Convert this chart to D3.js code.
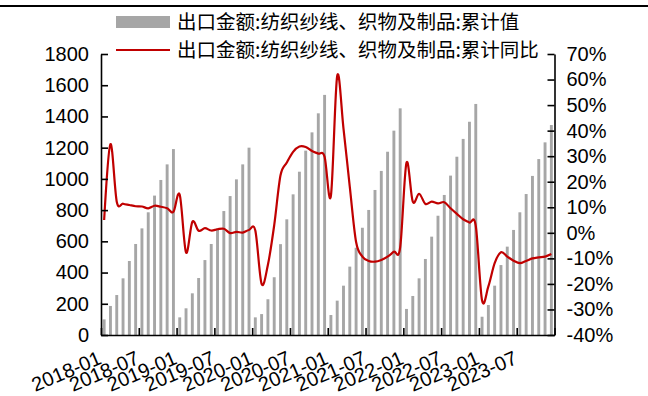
<!DOCTYPE html>
<html>
<head>
<meta charset="utf-8">
<script src="https://cdn.jsdelivr.net/npm/d3@7/dist/d3.min.js"></script>
<style>
  body { margin: 0; background: #fff; }
  svg { display: block; }
</style>
</head>
<body>
<svg id="chart" width="648" height="396"></svg>
<script>
// Monthly categories, 2018-01 .. 2023-12
const years = [2018, 2019, 2020, 2021, 2022, 2023];
const categories = [];
years.forEach(y => { for (let m = 1; m <= 12; m++) categories.push(`${y}-${String(m).padStart(2, "0")}`); });

// Labels shown on the category axis
const tickLabels = ["2018-01", "2018-07", "2019-01", "2019-07", "2020-01", "2020-07",
                    "2021-01", "2021-07", "2022-01", "2022-07", "2023-01", "2023-07"];

// 出口金额:纺织纱线、织物及制品:累计值 (亿美元), per year
const value2018 = [100, 186, 256, 363, 474, 583, 683, 786, 893, 993, 1093, 1191];
const value2019 = [113, 171, 267, 365, 480, 583, 683, 794, 890, 997, 1093, 1200];
const value2020 = [113, 134, 229, 370, 582, 741, 901, 1046, 1181, 1298, 1420, 1538];
const value2021 = [128, 220, 316, 438, 559, 687, 801, 929, 1051, 1174, 1309, 1452];
const value2022 = [167, 250, 363, 487, 630, 764, 897, 1021, 1142, 1256, 1366, 1480];
const value2023 = [117, 192, 316, 448, 566, 673, 786, 903, 1019, 1127, 1234, 1345];

// 出口金额:纺织纱线、织物及制品:累计同比 (%), per year
const yoy2018 = [5.0, 34.7, 12.2, 11.4, 10.9, 10.4, 10.3, 9.6, 10.6, 10.2, 9.6, 8.2];
const yoy2019 = [14.9, -7.7, 4.3, 0.8, 1.8, 0.9, 1.4, 1.6, -0.1, 0.4, 0.1, 1.1];
const yoy2020 = [0.9, -20.0, -12.5, 3.0, 22.5, 27.5, 31.7, 33.8, 33.6, 32.0, 31.0, 29.8];
const yoy2021 = [14.5, 61.4, 40.8, 18.0, -3.6, -9.3, -11.0, -11.3, -10.6, -9.3, -7.4, -5.7];
const yoy2022 = [27.4, 12.2, 15.3, 11.3, 12.2, 11.5, 12.0, 9.6, 7.4, 5.3, 4.0, 2.7];
const yoy2023 = [-26.5, -21.0, -11.9, -7.6, -9.3, -10.9, -11.9, -11.0, -10.0, -9.6, -9.3, -8.3];

const leftTicks = [0, 200, 400, 600, 800, 1000, 1200, 1400, 1600, 1800];
const rightTicks = [-40, -30, -20, -10, 0, 10, 20, 30, 40, 50, 60, 70];

const seriesBar = "出口金额:纺织纱线、织物及制品:累计值";
const seriesLine = "出口金额:纺织纱线、织物及制品:累计同比";

const values = [].concat(value2018, value2019, value2020, value2021, value2022, value2023);
const yoys = [].concat(yoy2018, yoy2019, yoy2020, yoy2021, yoy2022, yoy2023);
const rows = categories.map((c, i) => ({ cat: c, value: values[i], yoy: yoys[i] }));

const svg = d3.select("#chart");
const plot = { left: 101, right: 554.5, top: 54, bottom: 335 };

const BAR = "#a6a6a6", RED = "#c00000";
const latin = "'Liberation Sans', Arial, sans-serif";
const cjk = "'Noto Sans CJK SC', 'Noto Sans', sans-serif";

svg.append("rect").attr("width", 648).attr("height", 396).attr("fill", "#fff");

// rule across the top of the figure
svg.append("line").attr("x1", 0).attr("x2", 648).attr("y1", 6).attr("y2", 6)
  .attr("stroke", "#000").attr("stroke-width", 2);

const x = d3.scaleBand().domain(categories).range([plot.left, plot.right]).padding(0);
const xIdx = d3.scaleLinear().domain([0, categories.length]).range([plot.left, plot.right]);
const yL = d3.scaleLinear().domain([0, 1800]).range([plot.bottom, plot.top]);
const yR = d3.scaleLinear().domain([-40, 70]).range([plot.bottom, plot.top]);
const bw = x.bandwidth();

// bars
svg.append("g").selectAll("rect").data(rows).join("rect")
  .attr("x", d => x(d.cat) + bw * 0.27)
  .attr("width", bw * 0.46)
  .attr("y", d => yL(d.value))
  .attr("height", d => yL(0) - yL(d.value))
  .attr("fill", BAR);

// smoothed YoY line
const line = d3.line()
  .x(d => x(d.cat) + bw / 2)
  .y(d => yR(d.yoy))
  .curve(d3.curveCatmullRom.alpha(0));
svg.append("path").datum(rows)
  .attr("d", line)
  .attr("fill", "none")
  .attr("stroke", RED)
  .attr("stroke-width", 2.2)
  .attr("stroke-linejoin", "round");

// axes
const styleAxis = g => {
  g.selectAll(".domain").attr("stroke", "#000").attr("stroke-width", 1.6);
  g.selectAll(".tick line").attr("stroke", "#000").attr("stroke-width", 1.6);
  g.selectAll(".tick text").attr("font-family", latin).attr("font-size", 20).attr("fill", "#000");
};

svg.append("g").attr("transform", `translate(${plot.left},0)`)
  .call(d3.axisLeft(yL).tickValues(leftTicks).tickFormat(d3.format("d"))
    .tickSizeInner(-7).tickSizeOuter(0).tickPadding(12))
  .call(styleAxis);

svg.append("g").attr("transform", `translate(${plot.right},0)`)
  .call(d3.axisRight(yR).tickValues(rightTicks).tickFormat(d => d + "%")
    .tickSizeInner(-7).tickSizeOuter(0).tickPadding(12))
  .call(styleAxis);

svg.append("g").attr("transform", `translate(0,${plot.bottom})`)
  .call(d3.axisBottom(xIdx).tickValues(d3.range(0, categories.length + 1, 6))
    .tickFormat("").tickSizeInner(-7).tickSizeOuter(0))
  .call(styleAxis);

// rotated category labels
svg.append("g").selectAll("text").data(tickLabels).join("text")
  .attr("transform", d => `translate(${x(d) + bw / 2 - 7},${plot.bottom + 15}) rotate(-23)`)
  .attr("text-anchor", "end")
  .attr("dy", "0.72em")
  .attr("font-family", latin)
  .attr("font-size", 20)
  .attr("fill", "#000")
  .text(d => d);

// legend
const legend = svg.append("g");
legend.append("rect").attr("x", 116).attr("y", 16).attr("width", 54).attr("height", 12).attr("fill", BAR);
legend.append("text").attr("x", 177).attr("y", 22).attr("dy", "0.35em")
  .attr("font-family", cjk).attr("font-size", 19.5).attr("fill", "#000").text(seriesBar);
legend.append("line").attr("x1", 116).attr("x2", 170).attr("y1", 50).attr("y2", 50)
  .attr("stroke", RED).attr("stroke-width", 2.2);
legend.append("text").attr("x", 177).attr("y", 50).attr("dy", "0.35em")
  .attr("font-family", cjk).attr("font-size", 19.5).attr("fill", "#000").text(seriesLine);
</script>
</body>
</html>
